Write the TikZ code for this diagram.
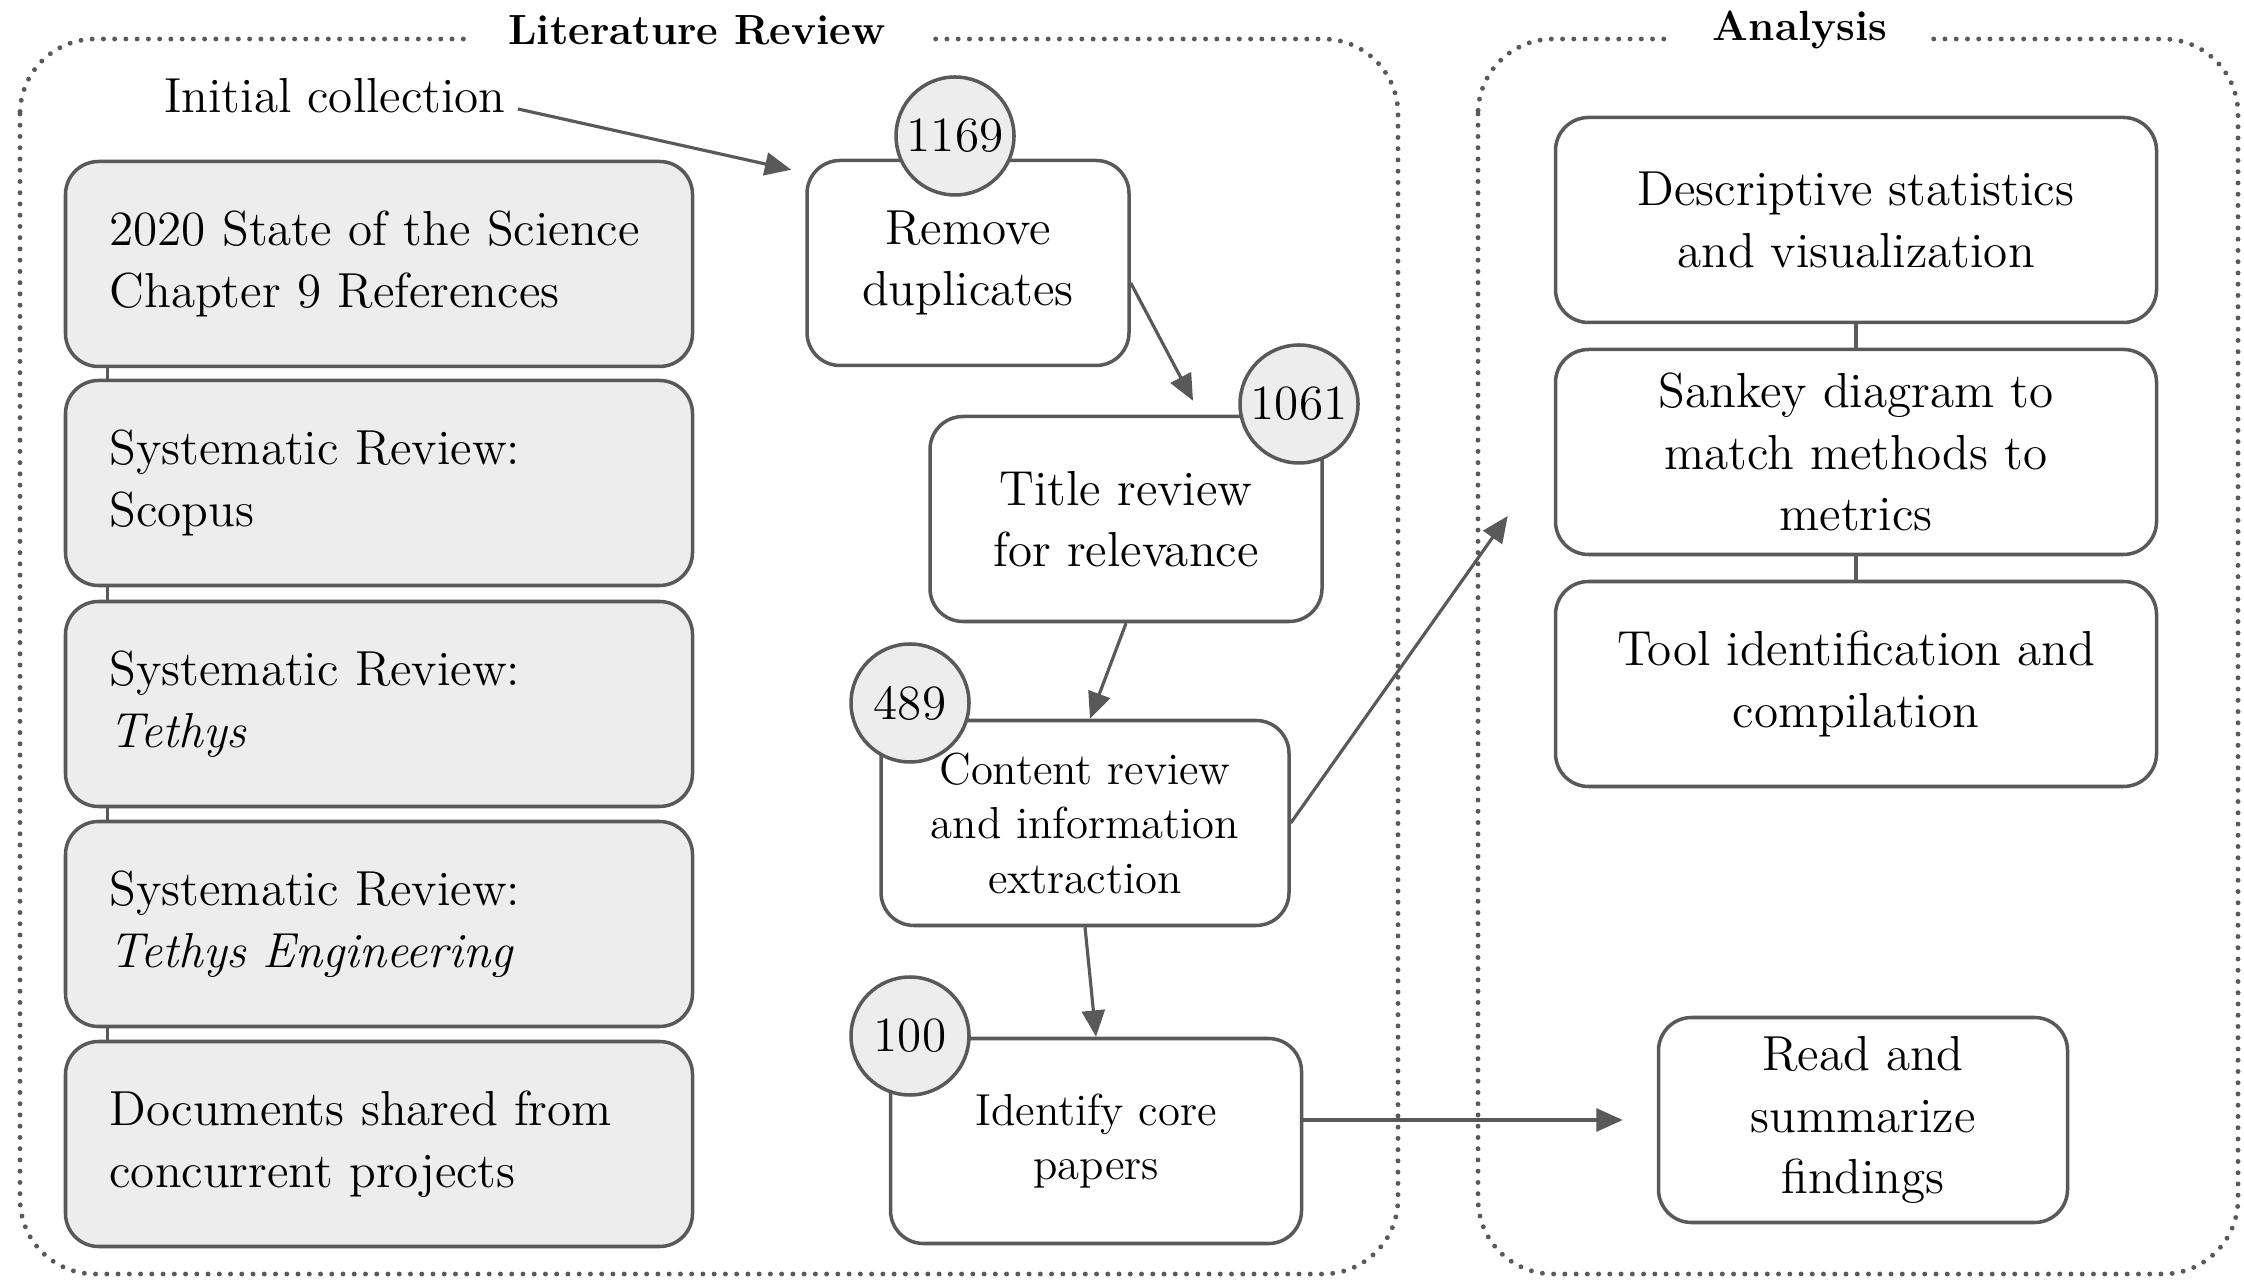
\documentclass[tikz,border=0pt]{standalone}
\usepackage{fontspec}
\usepackage{tikz}
\usetikzlibrary{arrows.meta}

\definecolor{linegray}{RGB}{89,89,89}
\definecolor{boxgray}{RGB}{237,237,237}
\newcommand{\bodyfont}{\fontsize{14}{17.5}\selectfont}
\newcommand{\smallbody}{\fontsize{12.75}{15.5}\selectfont}
\newcommand{\headfont}{\fontsize{12}{14}\selectfont\bfseries}

\tikzset{
  srcbox/.style={draw=linegray, fill=boxgray, line width=1pt, rounded corners=0.33cm,
    text width=5.39cm, inner xsep=0.44cm, minimum height=2.05cm, align=left, font=\bodyfont},
  stepbox/.style={draw=linegray, line width=1pt, rounded corners=0.33cm,
    minimum height=2.05cm, inner ysep=2pt, align=center, font=\bodyfont},
  countcirc/.style={circle, draw=linegray, fill=boxgray, line width=1pt,
    minimum size=1.18cm, inner sep=0pt, font=\bodyfont},
  group/.style={draw=linegray, line width=1.4pt, dash pattern=on 0pt off 3.2pt,
    line cap=round, rounded corners=0.75cm},
  head/.style={fill=white, inner xsep=0.42cm, inner ysep=2pt, font=\headfont},
  flow/.style={draw=linegray, line width=0.9pt, -{Triangle[length=7.5pt,width=6.5pt]}},
  link/.style={draw=linegray, line width=0.9pt}
}

\begin{document}
\begin{tikzpicture}
\useasboundingbox (0,0) rectangle (22.44,-12.794);

% dotted groups
\draw[group] (0.20,-0.39) rectangle (13.98,-12.74);
\draw[group] (14.78,-0.39) rectangle (22.38,-12.74);
\node[head] (lit) at (6.97,-0.30) {Literature Review};
\node[head] (ana) at (18.00,-0.30) {Analysis};

% sources
\node[font=\bodyfont] (init) at (3.35,-0.96) {Initial collection};
\node[srcbox] (src1) at (3.79,-2.64) {2020 State of the Science\\Chapter 9 References};
\node[srcbox] (src2) at (3.79,-4.83) {Systematic Review:\\Scopus};
\node[srcbox] (src3) at (3.79,-7.04) {Systematic Review:\\\textit{Tethys}};
\node[srcbox] (src4) at (3.79,-9.24) {Systematic Review:\\\textit{Tethys Engineering}};
\node[srcbox] (src5) at (3.79,-11.44) {Documents shared from\\concurrent projects};
\foreach \a/\b in {src1/src2, src2/src3, src3/src4, src4/src5}
  \draw[link] ([xshift=0.44cm]\a.south west) -- ([xshift=0.44cm]\b.north west);

% review steps
\node[stepbox, minimum width=3.22cm] (dedup) at (9.68,-2.63) {Remove\\duplicates};
\node[stepbox, minimum width=3.92cm] (title) at (11.26,-5.19) {Title review\\for relevance};
\node[stepbox, minimum width=4.08cm, font=\smallbody] (content) at (10.85,-8.23) {Content review\\and information\\extraction};
\node[stepbox, minimum width=4.11cm, font=\smallbody] (core) at (10.96,-11.41) {Identify core\\papers};

\node[countcirc] (n1169) at (9.55,-1.36) {1169};
\node[countcirc] (n1061) at (12.99,-4.04) {1061};
\node[countcirc] (n489) at (9.10,-7.03) {489};
\node[countcirc] (n100) at (9.10,-10.36) {100};

% analysis
\node[stepbox, minimum width=6.01cm] (desc) at (18.56,-2.20) {Descriptive statistics\\and visualization};
\node[stepbox, minimum width=6.01cm] (sankey) at (18.56,-4.52) {Sankey diagram to\\match methods to\\metrics};
\node[stepbox, minimum width=6.01cm] (tool) at (18.56,-6.84) {Tool identification and\\compilation};
\node[stepbox, minimum width=4.09cm] (read) at (18.63,-11.20) {Read and\\summarize\\findings};
\draw[link] (desc) -- (sankey);
\draw[link] (sankey) -- (tool);

% arrows
\coordinate (intoana) at ([xshift=-0.46cm,yshift=-0.64cm]sankey.west);
\draw[flow] ([yshift=-0.13cm]init.east) -- ([xshift=-0.14cm,yshift=-0.11cm]dedup.north west);
\draw[flow] ([yshift=-0.2cm]dedup.east) -- ([xshift=0.67cm,yshift=0.14cm]title.north);
\draw[flow] (title.south) -- ([xshift=0.05cm]content.north);
\draw[flow] (content.south) -- (core.north);
\draw[flow] (content.east) -- (intoana);
\draw[flow] ([yshift=0.21cm]core.east) -- ([xshift=-0.34cm]read.west);
\end{tikzpicture}
\end{document}
